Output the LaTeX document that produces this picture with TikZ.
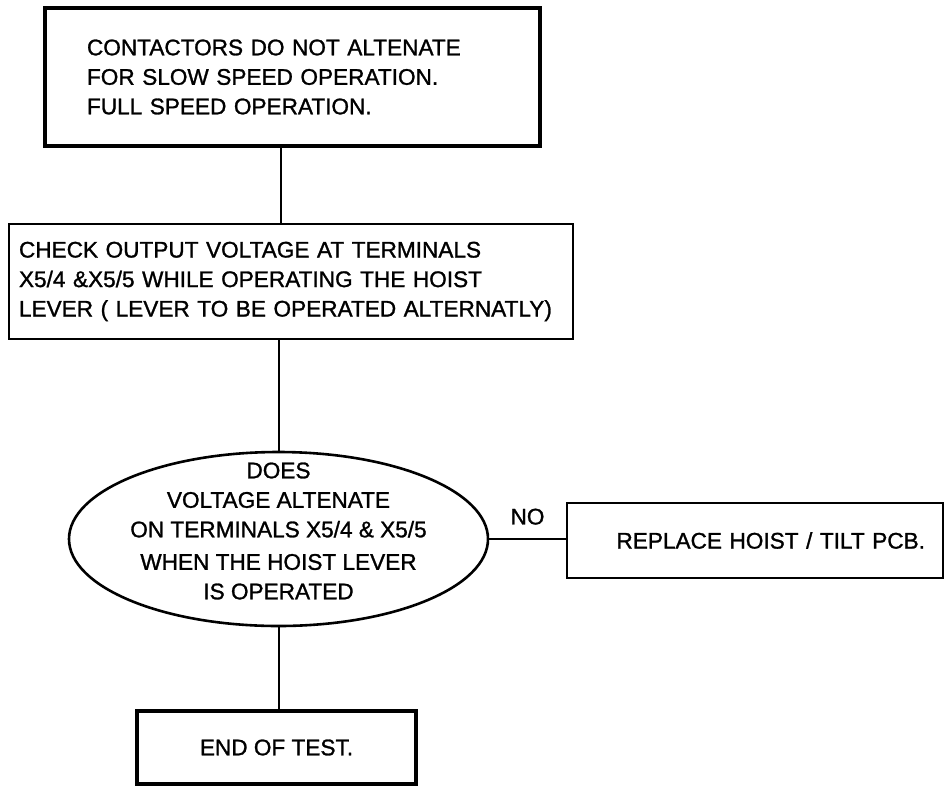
\documentclass[tikz,border=0pt]{standalone}
\usepackage{fontspec}
\setmainfont{Liberation Sans}[FakeBold=1.2]
\usepackage{tikz}
\usetikzlibrary{positioning, shapes.geometric}

\begin{document}
\begin{tikzpicture}[
  x=1pt, y=1pt,
  font=\fontsize{22.6}{29.5}\selectfont,
  thickbox/.style={draw, line width=4.5pt, inner sep=0pt},
  thinbox/.style={draw, line width=2.2pt, inner sep=0pt},
  decision/.style={draw, ellipse, line width=2.6pt, inner sep=0pt,
                   minimum width=419pt, minimum height=174pt},
  link/.style={line width=2pt}
]
  \useasboundingbox (0,0) rectangle (945,-788);

  \node[thickbox, minimum width=495pt, minimum height=138pt,
        text width=411pt, align=left] (fault) at (292.5,-77)
        {CONTACTORS DO NOT ALTENATE\\
         FOR SLOW SPEED OPERATION.\\
         FULL SPEED OPERATION.};

  \node[thinbox, minimum width=564pt, minimum height=115pt,
        text width=544pt, align=left] (check) at (291,-281.5)
        {CHECK OUTPUT VOLTAGE AT TERMINALS\\
         X5/4 \&X5/5 WHILE OPERATING THE HOIST\\
         LEVER ( LEVER TO BE OPERATED ALTERNATLY)};

  \node[decision] (ques) at (278.5,-539) {};
  \node[align=center] (questxt) at ([yshift=8pt]ques.center)
        {DOES\\
         VOLTAGE ALTENATE\\
         ON TERMINALS X5/4 \& X5/5\\[3pt]
         WHEN THE HOIST LEVER\\
         IS OPERATED};

  \node[thinbox, line width=2.6pt, minimum width=376pt, minimum height=75pt,
        text width=340pt, align=right] (pcb) at (755,-540.5)
        {REPLACE HOIST / TILT PCB.};

  \node[thickbox, minimum width=279pt, minimum height=73pt] (done) at (276.5,-747.5)
        {END OF TEST.};

  \draw[link] (fault.south -| 281,0) -- (check.north -| 281,0);
  \draw[link] (check.south -| ques.north) -- (ques.north);
  \draw[link] (ques.south) -- (done.north -| ques.south);
  \draw[link] (ques.east) -- node[above=10pt] (nolbl) {NO} (pcb.west |- ques.east);
\end{tikzpicture}
\end{document}
